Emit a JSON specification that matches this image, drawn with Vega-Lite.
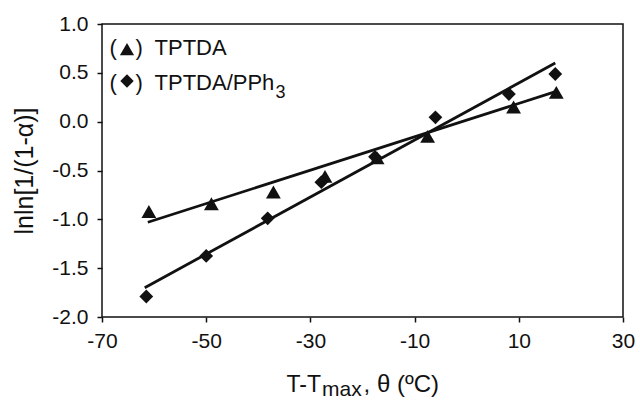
{
  "$schema": "https://vega.github.io/schema/vega-lite/v6.json",
  "width": 521,
  "height": 293,
  "autosize": {"type": "none"},
  "padding": {"left": 102, "top": 24, "right": 17, "bottom": 84},
  "background": "white",
  "config": {
    "view": {"stroke": "#111111", "strokeWidth": 1.5},
    "font": "Liberation Sans"
  },
  "datasets": {
    "tri": [
      {"x": -61.0, "y": -0.92},
      {"x": -49.0, "y": -0.84},
      {"x": -37.1, "y": -0.72},
      {"x": -27.2, "y": -0.56},
      {"x": -17.2, "y": -0.37},
      {"x": -7.5, "y": -0.15},
      {"x": 9.0, "y": 0.15},
      {"x": 17.2, "y": 0.30}
    ],
    "dia": [
      {"x": -61.5, "y": -1.79},
      {"x": -50.0, "y": -1.375},
      {"x": -38.2, "y": -0.99},
      {"x": -27.9, "y": -0.62},
      {"x": -17.6, "y": -0.36},
      {"x": -6.0, "y": 0.045},
      {"x": 8.1, "y": 0.283},
      {"x": 17.0, "y": 0.488}
    ],
    "fits": [
      {"series": "TPTDA", "x": -61.2, "y": -1.03},
      {"series": "TPTDA", "x": 17.2, "y": 0.31},
      {"series": "TPTDA/PPh3", "x": -61.8, "y": -1.70},
      {"series": "TPTDA/PPh3", "x": 17.0, "y": 0.60}
    ],
    "legendText": [
      {"x": -68.56, "y": 0.683, "label": "("},
      {"x": -63.57, "y": 0.683, "label": ")"},
      {"x": -59.92, "y": 0.683, "label": "TPTDA"},
      {"x": -68.56, "y": 0.324, "label": "("},
      {"x": -63.57, "y": 0.324, "label": ")"},
      {"x": -59.92, "y": 0.324, "label": "TPTDA/PPh"}
    ],
    "legendSub": [
      {"x": -36.7, "y": 0.242, "label": "3"}
    ],
    "legendSymbols": [
      {"x": -65.2, "y": 0.744, "series": "TPTDA"},
      {"x": -65.2, "y": 0.416, "series": "TPTDA/PPh3"}
    ]
  },
  "layer": [
    {
      "data": {"name": "fits"},
      "mark": {"type": "line", "color": "#111111", "strokeWidth": 2.8},
      "encoding": {
        "x": {
          "field": "x", "type": "quantitative",
          "scale": {"domain": [-70, 30], "nice": false, "zero": false},
          "axis": {
            "values": [-70, -50, -30, -10, 10, 30],
            "labelExpr": "(datum.value < 0 ? '-' : '') + format(abs(datum.value), 'd')",
            "labelFontSize": 21,
            "labelColor": "#111111",
            "labelPadding": 8,
            "labelFlush": false,
            "labelOverlap": false,
            "tickSize": 5,
            "tickWidth": 1.5,
            "tickColor": "#111111",
            "domain": false,
            "grid": false,
            "title": null
          }
        },
        "y": {
          "field": "y", "type": "quantitative",
          "scale": {"domain": [-2, 1], "nice": false, "zero": false},
          "axis": {
            "values": [-2, -1.5, -1, -0.5, 0, 0.5, 1],
            "labelExpr": "(datum.value < 0 ? '-' : '') + format(abs(datum.value), '.1f')",
            "labelFontSize": 21,
            "labelColor": "#111111",
            "labelPadding": 9,
            "labelFlush": false,
            "labelOverlap": false,
            "tickSize": 5,
            "tickWidth": 1.5,
            "tickColor": "#111111",
            "domain": false,
            "grid": false,
            "title": "lnln[1/(1-α)]",
            "titleFontSize": 25,
            "titleFontWeight": "normal",
            "titleColor": "#111111",
            "titleBaseline": "alphabetic",
            "titleAlign": "center",
            "titleAngle": 270,
            "titleX": -70,
            "titleY": 146.5
          }
        },
        "detail": {"field": "series"}
      }
    },
    {
      "data": {"name": "tri"},
      "mark": {"type": "point", "shape": "triangle-up", "filled": true, "color": "#111111", "size": 220, "opacity": 1},
      "encoding": {
        "x": {"field": "x", "type": "quantitative"},
        "y": {"field": "y", "type": "quantitative"}
      }
    },
    {
      "data": {"name": "dia"},
      "mark": {"type": "point", "shape": "diamond", "filled": true, "color": "#111111", "size": 190, "opacity": 1},
      "encoding": {
        "x": {"field": "x", "type": "quantitative"},
        "y": {"field": "y", "type": "quantitative"}
      }
    },
    {
      "data": {"name": "legendText"},
      "mark": {"type": "text", "align": "left", "baseline": "alphabetic", "fontSize": 22, "color": "#111111"},
      "encoding": {
        "x": {"field": "x", "type": "quantitative"},
        "y": {"field": "y", "type": "quantitative"},
        "text": {"field": "label"}
      }
    },
    {
      "data": {"name": "legendSub"},
      "mark": {"type": "text", "align": "left", "baseline": "alphabetic", "fontSize": 18, "color": "#111111"},
      "encoding": {
        "x": {"field": "x", "type": "quantitative"},
        "y": {"field": "y", "type": "quantitative"},
        "text": {"field": "label"}
      }
    },
    {
      "data": {"name": "legendSymbols"},
      "mark": {"type": "point", "filled": true, "color": "#111111", "opacity": 1},
      "encoding": {
        "x": {"field": "x", "type": "quantitative"},
        "y": {"field": "y", "type": "quantitative"},
        "shape": {"field": "series", "type": "nominal", "scale": {"domain": ["TPTDA", "TPTDA/PPh3"], "range": ["triangle-up", "diamond"]}, "legend": null},
        "size": {"field": "series", "type": "nominal", "scale": {"domain": ["TPTDA", "TPTDA/PPh3"], "range": [200, 180]}, "legend": null}
      }
    },
    {
      "data": {"values": [{"label": "T-T"}]},
      "mark": {"type": "text", "align": "right", "baseline": "alphabetic", "fontSize": 23, "color": "#111111"},
      "encoding": {
        "x": {"datum": -27.97, "type": "quantitative"},
        "y": {"datum": -2.768, "type": "quantitative"},
        "text": {"field": "label"}
      }
    },
    {
      "data": {"values": [{"label": "max"}]},
      "mark": {"type": "text", "align": "left", "baseline": "alphabetic", "fontSize": 21, "color": "#111111"},
      "encoding": {
        "x": {"datum": -27.77, "type": "quantitative"},
        "y": {"datum": -2.809, "type": "quantitative"},
        "text": {"field": "label"}
      }
    },
    {
      "data": {"values": [{"label": ", θ (ºC)"}]},
      "mark": {"type": "text", "align": "left", "baseline": "alphabetic", "fontSize": 24, "color": "#111111"},
      "encoding": {
        "x": {"datum": -19.8, "type": "quantitative"},
        "y": {"datum": -2.768, "type": "quantitative"},
        "text": {"field": "label"}
      }
    }
  ]
}
